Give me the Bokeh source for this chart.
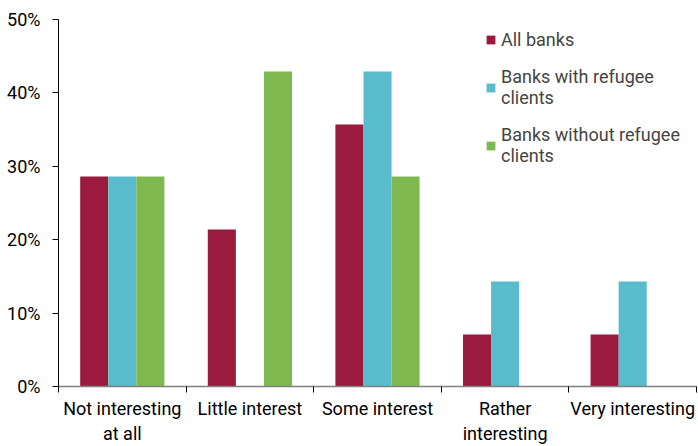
from bokeh.plotting import figure
from bokeh.models import ColumnDataSource, FixedTicker, Range1d, Legend, LegendItem
from bokeh.transform import dodge
from bokeh.embed import file_html
from bokeh.resources import INLINE

categories = ["Not interesting\nat all", "Little interest", "Some interest", "Rather\ninteresting", "Very interesting"]
all_banks = [28.6, 21.4, 35.7, 7.1, 7.1]
with_refugee = [28.6, 0.0, 42.9, 14.3, 14.3]
without_refugee = [28.6, 42.9, 28.6, 0.0, 0.0]
y_ticks = [0, 10, 20, 30, 40, 50]
series_names = ["All banks", "Banks with refugee\nclients", "Banks without refugee\nclients"]
colors = ["#9B1B3F", "#58BCCC", "#80B850"]

FONT = "Roboto"

xpos = [i + 0.5 for i in range(len(categories))]
src = ColumnDataSource(dict(x=xpos, a=all_banks, b=with_refugee, c=without_refugee))

p = figure(width=698, height=446, output_backend="svg", toolbar_location=None,
           x_range=Range1d(0, len(categories)), y_range=Range1d(0, 50),
           min_border_left=58, min_border_right=2, min_border_top=19, min_border_bottom=60)
p.outline_line_color = None
p.grid.grid_line_color = None
p.background_fill_color = "white"

bw = 0.22
r1 = p.vbar(x=dodge("x", -bw, range=p.x_range), top="a", width=bw, source=src, color=colors[0], line_color=None)
r2 = p.vbar(x=dodge("x", 0, range=p.x_range), top="b", width=bw, source=src, color=colors[1], line_color=None)
r3 = p.vbar(x=dodge("x", bw, range=p.x_range), top="c", width=bw, source=src, color=colors[2], line_color=None)

xa = p.xaxis[0]
xa.ticker = FixedTicker(ticks=xpos, minor_ticks=list(range(len(categories) + 1)))
xa.major_label_overrides = {x: c for x, c in zip(xpos, categories)}
xa.major_tick_out = 0
xa.major_tick_in = 0
xa.minor_tick_out = 6
xa.minor_tick_in = 0
xa.minor_tick_line_color = "#000000"
xa.axis_line_color = "#808080"
xa.axis_line_width = 1.5
xa.major_label_standoff = 5
xa.major_label_text_font = FONT
xa.major_label_text_font_size = "18px"
xa.major_label_text_color = "#000000"

ya = p.yaxis[0]
ya.ticker = FixedTicker(ticks=y_ticks, minor_ticks=[])
ya.major_label_overrides = {t: f"{t}%" for t in y_ticks}
ya.major_tick_out = 6
ya.major_tick_in = 0
ya.axis_line_color = "#000000"
ya.major_label_standoff = 12
ya.major_label_text_font = FONT
ya.major_label_text_font_size = "18px"
ya.major_label_text_color = "#000000"

legend = Legend(items=[LegendItem(label=series_names[0], renderers=[r1]),
                       LegendItem(label=series_names[1], renderers=[r2]),
                       LegendItem(label=series_names[2], renderers=[r3])],
                location=(427, 220))
legend.border_line_color = None
legend.background_fill_alpha = 0
legend.glyph_width = 11
legend.glyph_height = 11
legend.label_text_font = FONT
legend.label_text_font_size = "18px"
legend.label_text_line_height = 1.2
legend.spacing = 16
legend.margin = 0
legend.padding = 4
legend.label_standoff = 5
p.add_layout(legend)

open("out.html", "w").write(file_html(p, INLINE))
